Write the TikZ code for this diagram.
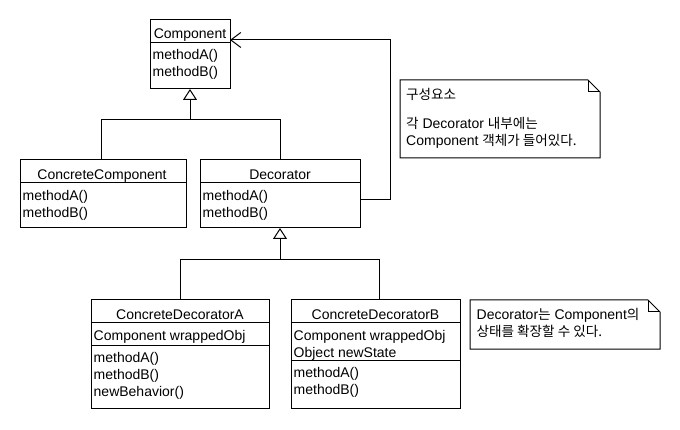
\documentclass[tikz,border=0pt]{standalone}
\usepackage{fontspec}
\setmainfont{Liberation Sans}
\newfontfamily\kr[Scale=0.97]{Noto Sans CJK KR}
\usetikzlibrary{arrows.meta}
\begin{document}
\begin{tikzpicture}[x=1pt,y=-1pt,
  box/.style={draw,line width=1pt,inner sep=0pt,outer sep=0pt,anchor=north west},
  ttl/.style={inner sep=0pt,anchor=base,font=\fontsize{14}{17}\selectfont},
  ln/.style={inner sep=0pt,anchor=base west,font=\fontsize{14}{17}\selectfont},
  wire/.style={line width=1pt},
  inh/.style={wire,-{Triangle[open,length=11pt,width=14pt]}},
  agg/.style={wire,-{Straight Barb[length=10pt,width=15pt]}},
  notebox/.style={draw,line width=1pt,line join=miter}
]
\useasboundingbox (0,0) rectangle (680,430);

% Component
\node[box,minimum width=80pt,minimum height=69pt] (comp) at (150,20) {};
\draw[wire] (150,43) -- (230,43);
\node[ttl] (compT) at (190,39) {Component};
\node[ln] (compA) at (152.5,60) {methodA()};
\node[ln] (compB) at (152.5,77) {methodB()};

% ConcreteComponent
\node[box,minimum width=166pt,minimum height=68pt] (cc) at (20,160) {};
\draw[wire] (20,183) -- (186,183);
\node[ttl] (ccT) at (102,179.5) {ConcreteComponent};
\node[ln] (ccA) at (22.5,201) {methodA()};
\node[ln] (ccB) at (22.5,218) {methodB()};

% Decorator
\node[box,minimum width=160pt,minimum height=68pt] (dec) at (200,160) {};
\draw[wire] (200,183) -- (360,183);
\node[ttl] (decT) at (280,179.5) {Decorator};
\node[ln] (decA) at (202.5,201) {methodA()};
\node[ln] (decB) at (202.5,218) {methodB()};

% ConcreteDecoratorA
\node[box,minimum width=178pt,minimum height=108pt] (cda) at (91,300) {};
\draw[wire] (91,323) -- (269,323);
\draw[wire] (91,345) -- (269,345);
\node[ttl] (cdaT) at (180,319.5) {ConcreteDecoratorA};
\node[ln] (cdaS) at (93.5,340.5) {Component wrappedObj};
\node[ln] (cdaA) at (93.5,362.5) {methodA()};
\node[ln] (cdaB) at (93.5,379.5) {methodB()};
\node[ln] (cdaC) at (93.5,396.5) {newBehavior()};

% ConcreteDecoratorB
\node[box,minimum width=169pt,minimum height=108pt] (cdb) at (291,300) {};
\draw[wire] (291,323) -- (460,323);
\draw[wire] (291,360) -- (460,360);
\node[ttl] (cdbT) at (375.5,319.5) {ConcreteDecoratorB};
\node[ln] (cdbS) at (293.5,340.5) {Component wrappedObj};
\node[ln] (cdbS2) at (293.5,357.5) {Object newState};
\node[ln] (cdbA) at (293.5,377.5) {methodA()};
\node[ln] (cdbB) at (293.5,394.5) {methodB()};

% connectors
\coordinate (j1) at (190,120);
\coordinate (j2) at (280,260);
\coordinate (cornerR) at (390,40);
\draw[inh] ([xshift=-2pt]cc.north) |- (comp.south |- j1) -- (comp.south);
\draw[wire] (dec.north) |- (comp.south |- j1);
\draw[inh] (cda.north) |- (dec.south |- j2) -- (dec.south);
\draw[wire] ([xshift=3.5pt]cdb.north) |- (dec.south |- j2);
\draw[agg] ([yshift=-6pt]dec.east) -| (cornerR) -- (comp.east |- cornerR);

% note 1
\draw[notebox] (400,80) -- (588,80) -- (600,92) -- (600,158) -- (400,158) -- cycle;
\draw[wire] (588,80) -- (588,92) -- (600,92);
\node[ln] (n1a) at (406,100) {\kr 구성요소};
\node[ln] (n1b) at (406,128.5) {{\kr 각} Decorator {\kr 내부에는}};
\node[ln] (n1c) at (406,146) {Component {\kr 객체가 들어있다.}};

% note 2
\draw[notebox] (470,300) -- (648,300) -- (660,312) -- (660,349) -- (470,349) -- cycle;
\draw[wire] (648,300) -- (648,312) -- (660,312);
\node[ln] (n2a) at (476.5,319.5) {Decorator{\kr 는} Component{\kr 의}};
\node[ln] (n2b) at (476.5,336) {\kr 상태를 확장할 수 있다.};
\end{tikzpicture}
\end{document}
